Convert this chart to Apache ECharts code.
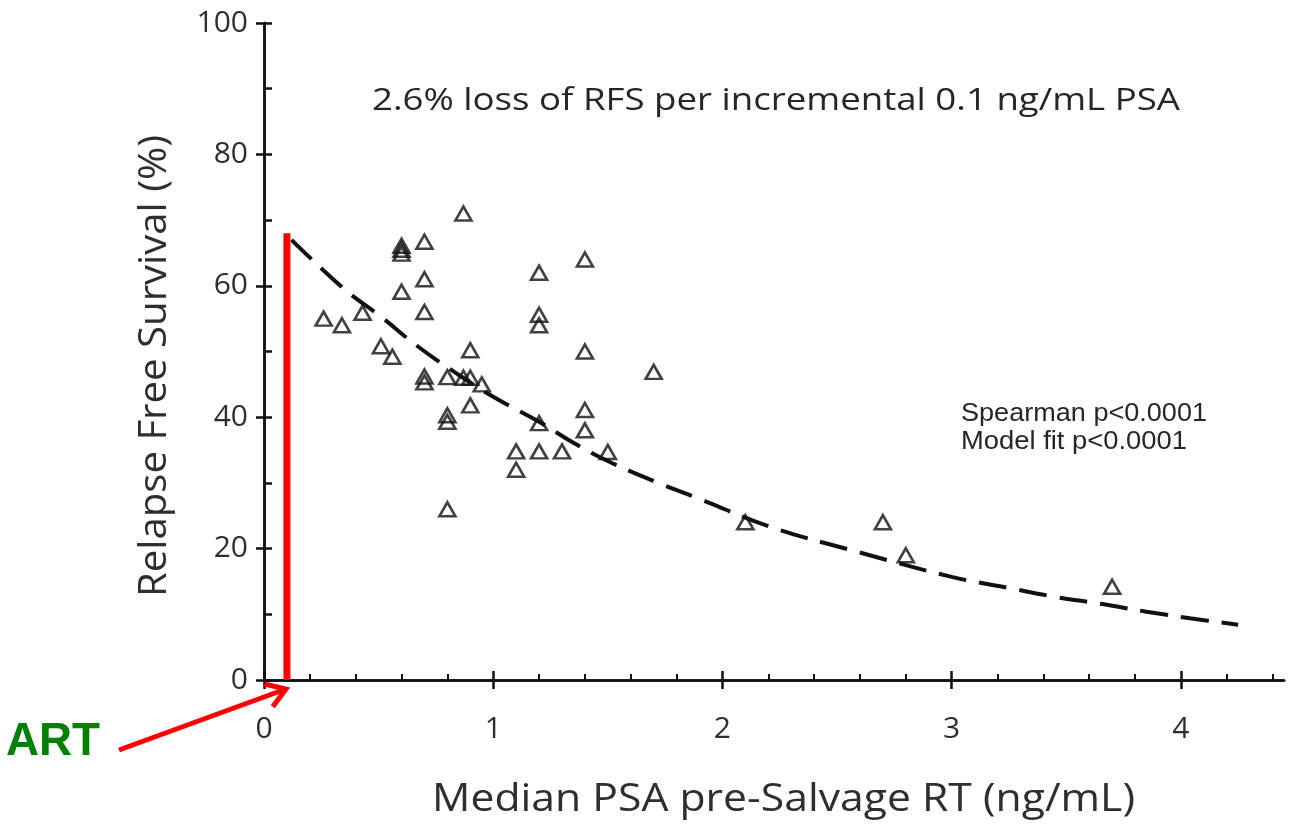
<!DOCTYPE html>
<html>
<head>
<meta charset="utf-8">
<title>Relapse Free Survival vs Median PSA pre-Salvage RT</title>
<script src="https://cdn.jsdelivr.net/npm/echarts@6/dist/echarts.min.js"></script>
<style>
  html, body { margin: 0; padding: 0; background: #ffffff; }
  #chart { width: 1297px; height: 829px; }
</style>
</head>
<body>
<div id="chart"></div>
<script>
// Study cohorts: median PSA before salvage RT (ng/mL) and relapse free survival (%)
const psa = [
  0.26, 0.34, 0.43, 0.51, 0.56, 0.60, 0.60, 0.60, 0.60, 0.70,
  0.70, 0.70, 0.70, 0.70, 0.80, 0.80, 0.80, 0.80, 0.87, 0.87,
  0.90, 0.90, 0.90, 0.95, 1.10, 1.10, 1.20, 1.20, 1.20, 1.20,
  1.20, 1.30, 1.40, 1.40, 1.40, 1.40, 1.50, 1.70, 2.10, 2.70,
  2.80, 3.70
];
const rfs = [
  55.0, 54.0, 55.9, 50.8, 49.2, 59.1, 66.1, 65.5, 64.9, 66.7,
  61.0, 56.0, 46.2, 45.3, 46.1, 40.3, 39.3, 26.0, 71.0, 46.0,
  50.2, 46.0, 41.8, 45.0, 34.8, 32.0, 62.0, 55.6, 54.0, 39.1,
  34.8, 34.8, 64.0, 50.0, 41.1, 38.0, 34.7, 46.9, 24.0, 24.0,
  19.0, 14.2
];

// Fitted model curve, sampled along its length
const fitPsa = [0.12, 0.35, 0.51, 0.67, 0.83, 1.00, 1.20, 1.35, 1.52, 1.72,
                1.89, 2.21, 2.59, 3.00, 3.25, 3.46, 3.65, 3.85, 4.04, 4.25];
const fitRfs = [67.0, 59.5, 55.3, 50.8, 46.9, 43.1, 39.3, 36.1, 33.0, 30.0,
                27.7, 23.3, 19.5, 15.7, 14.0, 12.6, 11.6, 10.4, 9.4, 8.4];

// Adjuvant RT marker (PSA level and bar height)
const artPsa = [0.1, 0.1];
const artRfs = [0, 68];

// Axis ticks
const xTicks = [0, 1, 2, 3, 4];
const yTicks = [0, 20, 40, 60, 80, 100];

// Text
const titleText = '2.6% loss of RFS per incremental 0.1 ng/mL PSA';
const statLines = ['Spearman p<0.0001', 'Model fit p<0.0001'];
const xName = 'Median PSA pre-Salvage RT (ng/mL)';
const yName = 'Relapse Free Survival (%)';
const artLabel = 'ART';

const zip = (a, b) => a.map((v, i) => [v, b[i]]);

const X_MAX = 4.45;
const INK = '#111111';
const TEXT = '#2e2e2e';

const chart = echarts.init(document.getElementById('chart'), null, { renderer: 'canvas' });

const baseX = {
  type: 'value', min: 0, max: X_MAX, interval: 1, position: 'bottom',
  axisLine: { show: true, onZero: false, lineStyle: { color: INK, width: 2.5 } },
  splitLine: { show: false }
};
const baseY = {
  type: 'value', min: 0, max: 100, interval: 20, position: 'left',
  axisLine: { show: true, onZero: false, lineStyle: { color: INK, width: 2.5 } },
  splitLine: { show: false }
};

const option = {
  animation: false,
  backgroundColor: '#ffffff',
  grid: { left: 264, right: 13, top: 23, bottom: 149, containLabel: false },
  xAxis: [
    Object.assign({}, baseX, {
      axisTick: { show: true, inside: true, length: 9, customValues: xTicks,
                  lineStyle: { color: INK, width: 2.5 } },
      minorTick: { show: true, splitNumber: 5, length: 6, lineStyle: { color: INK, width: 2 } },
      axisLabel: { show: true, customValues: xTicks, margin: 34, color: TEXT,
                   fontFamily: 'Open Sans', fontSize: 30 }
    }),
    Object.assign({}, baseX, {
      axisTick: { show: true, inside: false, length: 9, customValues: xTicks,
                  lineStyle: { color: INK, width: 2.5 } },
      axisLabel: { show: false }
    })
  ],
  yAxis: [
    Object.assign({}, baseY, {
      axisTick: { show: true, inside: true, length: 8, customValues: yTicks,
                  lineStyle: { color: INK, width: 2.5 } },
      minorTick: { show: true, splitNumber: 2, length: 8, lineStyle: { color: INK, width: 2.5 } },
      axisLabel: { show: true, customValues: yTicks, margin: 16, color: TEXT,
                   fontFamily: 'Open Sans', fontSize: 30 }
    }),
    Object.assign({}, baseY, {
      axisTick: { show: true, inside: false, length: 8, customValues: yTicks,
                  lineStyle: { color: INK, width: 2.5 } },
      axisLabel: { show: false }
    })
  ],
  series: [
    {
      name: 'Model fit', type: 'line', xAxisIndex: 0, yAxisIndex: 0,
      data: zip(fitPsa, fitRfs), smooth: 0.4, showSymbol: false, symbol: 'none',
      lineStyle: { color: INK, width: 4, type: [28, 13] }, z: 3
    },
    {
      name: 'Cohorts', type: 'scatter', xAxisIndex: 0, yAxisIndex: 0,
      data: zip(psa, rfs), symbol: 'triangle', symbolSize: [16, 14],
      itemStyle: { color: 'rgba(0,0,0,0)', borderColor: INK, borderWidth: 2.6 }, z: 4
    },
    {
      name: 'ART', type: 'line', xAxisIndex: 0, yAxisIndex: 0,
      data: zip(artPsa, artRfs), showSymbol: false, symbol: 'none',
      lineStyle: { color: '#ff0000', width: 7, cap: 'butt' }, z: 5
    }
  ]
};

chart.setOption(option);

// Text helpers: stretch a string horizontally so it spans a given width
const measureCtx = document.createElement('canvas').getContext('2d');
function stretch(text, font, width) {
  measureCtx.font = font;
  return width / measureCtx.measureText(text).width;
}
function label(text, font, fill, x, y, width, rotation) {
  return {
    type: 'text', x: x, y: y, rotation: rotation || 0,
    scaleX: stretch(text, font, width), silent: true, z: 10,
    style: { text: text, font: font, fill: fill, align: 'left', verticalAlign: 'middle' }
  };
}

const titleFont = '31px "Open Sans"';
const statFont = '25px "Liberation Sans"';
const nameFontX = '39px "Open Sans"';
const nameFontY = '38px "Open Sans"';
const artFont = 'bold 47px "Liberation Sans"';

// Arrow from the ART label to the foot of the red bar
const foot = chart.convertToPixel({ xAxisIndex: 0, yAxisIndex: 0 }, [artPsa[0], 0]);
const tip = [foot[0] - 1, foot[1] + 9];
const tail = [119, 750];
const ang = Math.atan2(tail[1] - tip[1], tail[0] - tip[0]);
const headLen = 22, spread = 0.58;
const arm = s => [tip[0] + headLen * Math.cos(ang + s * spread), tip[1] + headLen * Math.sin(ang + s * spread)];

chart.setOption({
  graphic: [
    label(titleText, titleFont, '#262626', 372, 101, 808),
    label(statLines[0], statFont, '#262626', 961, 414, 246),
    label(statLines[1], statFont, '#262626', 961, 442, 226),
    label(xName, nameFontX, TEXT, 432, 800, 703),
    label(yName, nameFontY, TEXT, 155, 597, 462, Math.PI / 2),
    label(artLabel, artFont, '#008000', 6, 742, 94),
    {
      type: 'polyline', silent: true, z: 10,
      shape: { points: [tail, tip] },
      style: { stroke: '#ff0000', lineWidth: 5, lineCap: 'butt', fill: null }
    },
    {
      type: 'polyline', silent: true, z: 10,
      shape: { points: [arm(1), tip, arm(-1)] },
      style: { stroke: '#ff0000', lineWidth: 5, lineJoin: 'miter', fill: null }
    }
  ]
});
</script>
</body>
</html>
